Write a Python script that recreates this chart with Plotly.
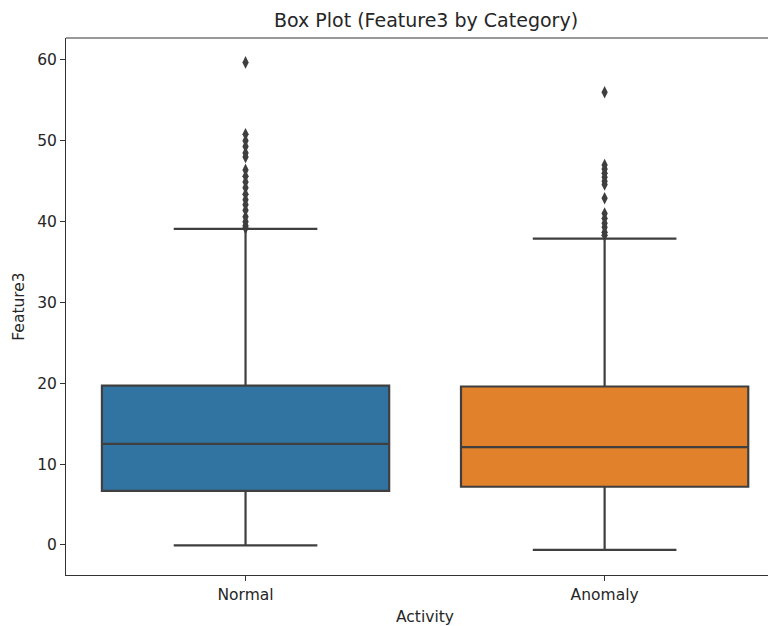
import plotly.graph_objects as go

categories = ["Normal", "Anomaly"]
q1 = [6.7, 7.2]
median = [12.5, 12.1]
q3 = [19.7, 19.6]
lower_whisker = [-0.05, -0.6]
upper_whisker = [39.1, 37.9]
colors = ["#3274a1", "#e1812c"]

outliers_normal = [59.7, 50.8, 50.0, 49.3, 48.5, 48.0, 46.4, 45.6, 44.9, 44.2, 43.4,
                   42.7, 42.1, 41.4, 40.6, 40.0, 39.5, 39.2]
outliers_anomaly = [56.0, 47.0, 46.5, 46.0, 45.5, 45.0, 44.6, 42.9, 41.0, 40.4, 39.8,
                    39.3, 38.7, 38.3]
outliers = [outliers_normal, outliers_anomaly]

line_col = "#3f3f3f"
fig = go.Figure()
for i, cat in enumerate(categories):
    fig.add_trace(go.Box(
        x=[i], q1=[q1[i]], median=[median[i]], q3=[q3[i]],
        lowerfence=[lower_whisker[i]], upperfence=[upper_whisker[i]],
        width=0.8, whiskerwidth=0.5, fillcolor=colors[i],
        line=dict(color=line_col, width=2.2), boxpoints=False,
        name=cat, showlegend=False, hoverinfo="skip",
    ))
    fig.add_trace(go.Scatter(
        x=[i] * len(outliers[i]), y=outliers[i], mode="markers",
        marker=dict(symbol="diamond-tall", size=9, color=line_col,
                    line=dict(width=0)),
        showlegend=False, hoverinfo="skip",
    ))

font = "DejaVu Sans"
W, H = 760, 618
fig.update_layout(
    width=W, height=H,
    margin=dict(l=58, r=0, t=30, b=51),
    paper_bgcolor="white", plot_bgcolor="white",
    font=dict(family=font, size=15.5, color="#262626"),
    title=dict(text="Box Plot (Feature3 by Category)", x=(426 - 8) / W, xref="container",
               xanchor="center", y=1 - (20 - 8) / H, yref="container", yanchor="middle",
               font=dict(family=font, size=19, color="#262626")),
    shapes=[dict(type="line", xref="paper", yref="paper", x0=0, x1=1, y0=1, y1=1,
                 line=dict(color="#333", width=1))],
    annotations=[dict(text="Activity", xref="x", x=0.5, yref="paper", y=0,
                      yshift=-42, yanchor="middle", xanchor="center", showarrow=False,
                      font=dict(family=font, size=15.5, color="#262626"))],
)
fig.update_xaxes(
    range=[-0.5, 1.455], tickvals=[0, 1], ticktext=categories,
    showgrid=False, zeroline=False, showline=True, linecolor="#333", linewidth=1,
    mirror=False, ticks="outside", ticklen=5, tickcolor="#333",
)
fig.update_yaxes(
    range=[-3.72, 62.72], tickvals=[0, 10, 20, 30, 40, 50, 60],
    showgrid=False, zeroline=False, showline=True, linecolor="#333", linewidth=1,
    mirror=False, ticks="outside", ticklen=5, tickcolor="#333",
    title=dict(text="Feature3", font=dict(family=font, size=15.5), standoff=8),
)
fig.write_html("out.html")
